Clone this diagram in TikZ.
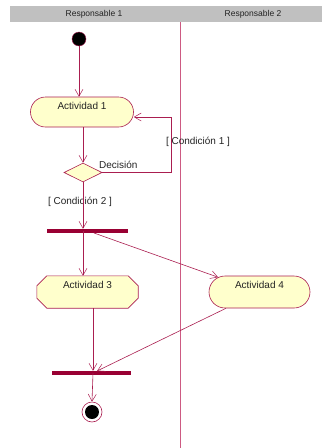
\documentclass[tikz,border=0pt]{standalone}
\usepackage{fontspec}
\setmainfont{Liberation Sans}
\usetikzlibrary{shapes.geometric,shapes.misc,arrows.meta,backgrounds}
\definecolor{umlline}{RGB}{170,30,80}
\definecolor{lanecol}{RGB}{205,90,130}
\definecolor{actfill}{RGB}{255,255,204}
\definecolor{barfill}{RGB}{153,0,51}
\definecolor{headfill}{RGB}{192,192,192}
\definecolor{txtcol}{RGB}{35,35,35}
\tikzset{
  flow/.style={draw=umlline, line width=0.6pt, -{Straight Barb[length=7pt,width=8pt,line width=0.5pt]}},
  plainflow/.style={draw=umlline, line width=0.6pt},
  actbox/.style={rounded rectangle, draw=umlline, fill=actfill, line width=0.6pt,
     minimum width=103pt, minimum height=30pt, text height=8pt, text depth=14pt,
     font=\fontsize{10pt}{12pt}\selectfont, text=txtcol, inner sep=0pt},
  actplain/.style={rectangle, draw=none, minimum width=101pt, minimum height=32pt,
     text height=8pt, text depth=15pt, font=\fontsize{10pt}{12pt}\selectfont, text=txtcol, inner sep=0pt},
  syncbar/.style={rectangle, fill=barfill, draw=none, minimum height=4pt, inner sep=0pt},
  lbl/.style={font=\fontsize{10pt}{12pt}\selectfont, text=txtcol, inner sep=0pt},
  headlbl/.style={font=\fontsize{8.5pt}{10pt}\selectfont, text=txtcol, inner sep=0pt},
}
\begin{document}
\begin{tikzpicture}[x=1pt,y=-1pt]
\useasboundingbox (0,0) rectangle (322,448);
% header
\fill[headfill] (10,6) rectangle (322,22);
\node[headlbl] (h1) at (94,14) {Responsable 1};
\node[headlbl] (h2) at (253,14) {Responsable 2};
\draw[lanecol, line width=0.6pt] (180,22) -- (180,448);
% nodes
\node[circle, fill=black, draw=umlline, line width=0.4pt, minimum size=14pt, inner sep=0pt] (start) at (79,39) {};
\node[actbox] (act1) at (82,112) {Actividad 1};
\node[diamond, draw=umlline, fill=actfill, line width=0.6pt, minimum width=38pt, minimum height=19pt, inner sep=0pt] (dec) at (83,172.5) {};
\node[lbl, anchor=west] (declbl) at (99,165) {Decisión};
\node[lbl] (c1) at (198,142) {[ Condición 1 ]};
\node[lbl] (c2) at (80,202) {[ Condición 2 ]};
\node[syncbar, minimum width=81pt] (fork) at (87.5,231) {};
\node[actplain] (act3) at (87.5,292) {Actividad 3};
\begin{scope}[on background layer]
\draw[draw=umlline, fill=actfill, line width=0.6pt]
  ([xshift=10pt]act3.north west) -- ([xshift=-10pt]act3.north east) -- ([yshift=-10pt]act3.north east)
  -- ([yshift=10pt]act3.south east) -- ([xshift=-10pt]act3.south east) -- ([xshift=10pt]act3.south west)
  -- ([yshift=10pt]act3.south west) -- ([yshift=-10pt]act3.north west) -- cycle;
\end{scope}
\node[actbox, minimum width=101pt, minimum height=32pt, text depth=15pt] (act4) at (259.5,292) {Actividad 4};
\node[syncbar, minimum width=79pt] (join) at (91.5,373) {};
\node[circle, draw=umlline, line width=0.6pt, minimum size=20pt, inner sep=0pt] (final) at (92,412) {};
\node[circle, fill=black, minimum size=14pt, inner sep=0pt] (finalin) at (final) {};
% coordinates
\coordinate (loopc) at (171,117);
\coordinate (forkA) at (83,231);
\coordinate (forkB) at (94,233);
\coordinate (joinA) at (93,373);
\coordinate (joinB) at (97,371);
% connectors
\draw[flow] (start) -- (start |- act1.north);
\draw[flow] (act1.south -| dec.north) -- (dec.north);
\draw[flow] (dec.east) -| (loopc) -- (act1.east |- loopc);
\draw[flow] (dec.south) -- (dec.south |- fork.north);
\draw[flow] (forkA) -- (act3.north -| forkA);
\draw[flow] (forkB) -- (act4);
\draw[flow] (act3.south -| joinA) -- (joinA |- join.north);
\draw[flow] (act4) -- (joinB);
\draw[flow] (joinA) -- (final.north);
\end{tikzpicture}
\end{document}
